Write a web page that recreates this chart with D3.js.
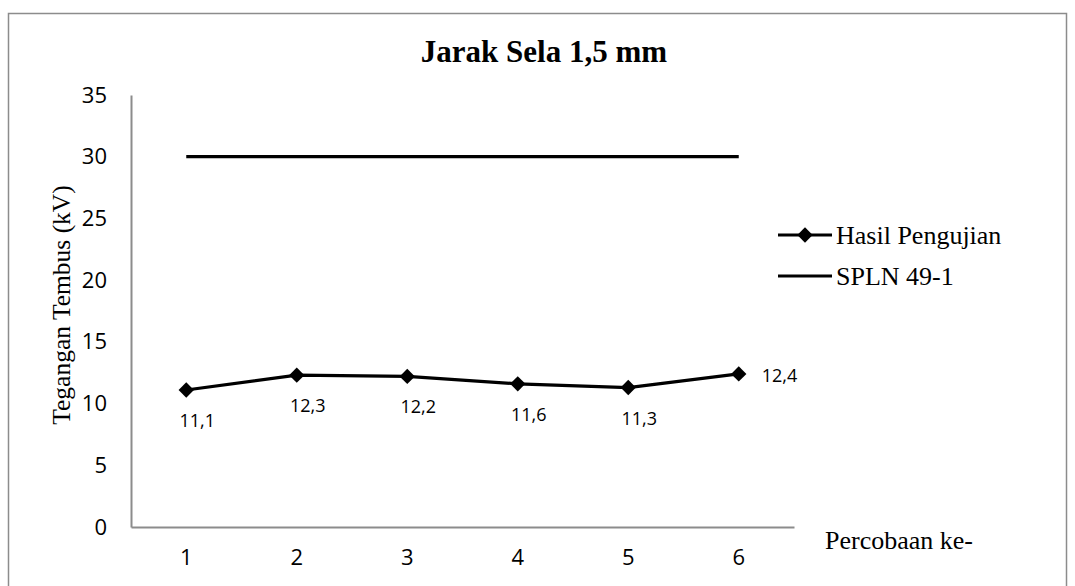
<!DOCTYPE html>
<html>
<head>
<meta charset="utf-8">
<script src="https://cdn.jsdelivr.net/npm/d3@7"></script>
<style>
  body { margin: 0; background: #fff; }
  svg { display: block; }
</style>
</head>
<body>
<div id="chart"></div>
<script>
// chart data
const categories = ['1', '2', '3', '4', '5', '6'];
const hasilPengujian = [11.1, 12.3, 12.2, 11.6, 11.3, 12.4];
const splnValues = [30, 30, 30, 30, 30, 30];
const yTicks = [0, 5, 10, 15, 20, 25, 30, 35];
const seriesNames = ['Hasil Pengujian', 'SPLN 49-1'];

const width = 1075, height = 586;
const margin = { top: 95, right: 281, bottom: 59, left: 131 };
const serif = 'Liberation Serif, Times New Roman, serif';
const sans = 'Open Sans, sans-serif';

const svg = d3.select('#chart').append('svg')
  .attr('width', width)
  .attr('height', height);

// outer chart border
svg.append('rect')
  .attr('x', 8.5).attr('y', 13.5)
  .attr('width', 1058).attr('height', 600)
  .attr('fill', 'none')
  .attr('stroke', '#8c8c8c')
  .attr('stroke-width', 1.5);

const x = d3.scaleBand()
  .domain(categories)
  .range([margin.left, width - margin.right]);

const y = d3.scaleLinear()
  .domain([0, 35])
  .range([height - margin.bottom, margin.top]);

const cx = d => x(d) + x.bandwidth() / 2;

// axes
const xAxis = svg.append('g')
  .attr('transform', `translate(0,${y(0)})`)
  .call(d3.axisBottom(x).tickSize(0).tickPadding(22));
xAxis.select('.domain').attr('stroke', '#8c8c8c').attr('stroke-width', 2);
xAxis.selectAll('text')
  .style('font-family', sans)
  .style('font-size', '22px')
  .attr('fill', '#000');

const yAxis = svg.append('g')
  .attr('transform', `translate(${margin.left},0)`)
  .call(d3.axisLeft(y).tickValues(yTicks).tickSize(0).tickPadding(24));
yAxis.select('.domain').attr('stroke', '#8c8c8c').attr('stroke-width', 2);
yAxis.selectAll('text')
  .style('font-family', sans)
  .style('font-size', '22px')
  .attr('fill', '#000');

const line = d3.line()
  .x((d, i) => cx(categories[i]))
  .y(d => y(d));

// SPLN line
svg.append('path')
  .datum(splnValues)
  .attr('d', line)
  .attr('fill', 'none')
  .attr('stroke', '#000')
  .attr('stroke-width', 3.2);

// Hasil Pengujian line
svg.append('path')
  .datum(hasilPengujian)
  .attr('d', line)
  .attr('fill', 'none')
  .attr('stroke', '#000')
  .attr('stroke-width', 3.2);

const diamond = d3.symbol().type(d3.symbolDiamond2).size(150);

svg.selectAll('.pt')
  .data(hasilPengujian)
  .enter()
  .append('path')
  .attr('class', 'pt')
  .attr('d', diamond)
  .attr('transform', (d, i) => `translate(${cx(categories[i])},${y(d)})`)
  .attr('fill', '#000');

// value labels (last one sits to the right of its point)
const last = hasilPengujian.length - 1;
svg.selectAll('.lbl')
  .data(hasilPengujian)
  .enter()
  .append('text')
  .attr('class', 'lbl')
  .attr('x', (d, i) => i === last ? cx(categories[i]) + 23 : cx(categories[i]) + 11)
  .attr('y', (d, i) => i === last ? y(d) + 8 : y(d) + 37)
  .attr('text-anchor', (d, i) => i === last ? 'start' : 'middle')
  .style('font-family', sans)
  .style('font-size', '18px')
  .text(d => d.toFixed(1).replace('.', ','));

// title
svg.append('text')
  .attr('x', 544).attr('y', 62)
  .attr('text-anchor', 'middle')
  .style('font-family', serif)
  .style('font-weight', 'bold')
  .style('font-size', '31px')
  .text('Jarak Sela 1,5 mm');

// y axis title
svg.append('text')
  .attr('transform', `translate(70,305) rotate(-90)`)
  .attr('text-anchor', 'middle')
  .style('font-family', serif)
  .style('font-size', '25.5px')
  .text('Tegangan Tembus (kV)');

// x axis title
svg.append('text')
  .attr('x', 825).attr('y', 549)
  .style('font-family', serif)
  .style('font-size', '26px')
  .text('Percobaan ke-');

// legend
const legend = svg.append('g').attr('transform', 'translate(778,235)');
seriesNames.forEach((name, i) => {
  const g = legend.append('g').attr('transform', `translate(0,${i * 41})`);
  g.append('line')
    .attr('x1', 0).attr('x2', 54)
    .attr('stroke', '#000').attr('stroke-width', 3.2);
  if (i === 0) {
    g.append('path')
      .attr('d', diamond)
      .attr('transform', 'translate(27,0)')
      .attr('fill', '#000');
  }
  g.append('text')
    .attr('x', 58).attr('y', 8.5)
    .style('font-family', serif)
    .style('font-size', '26px')
    .text(name);
});
</script>
</body>
</html>
